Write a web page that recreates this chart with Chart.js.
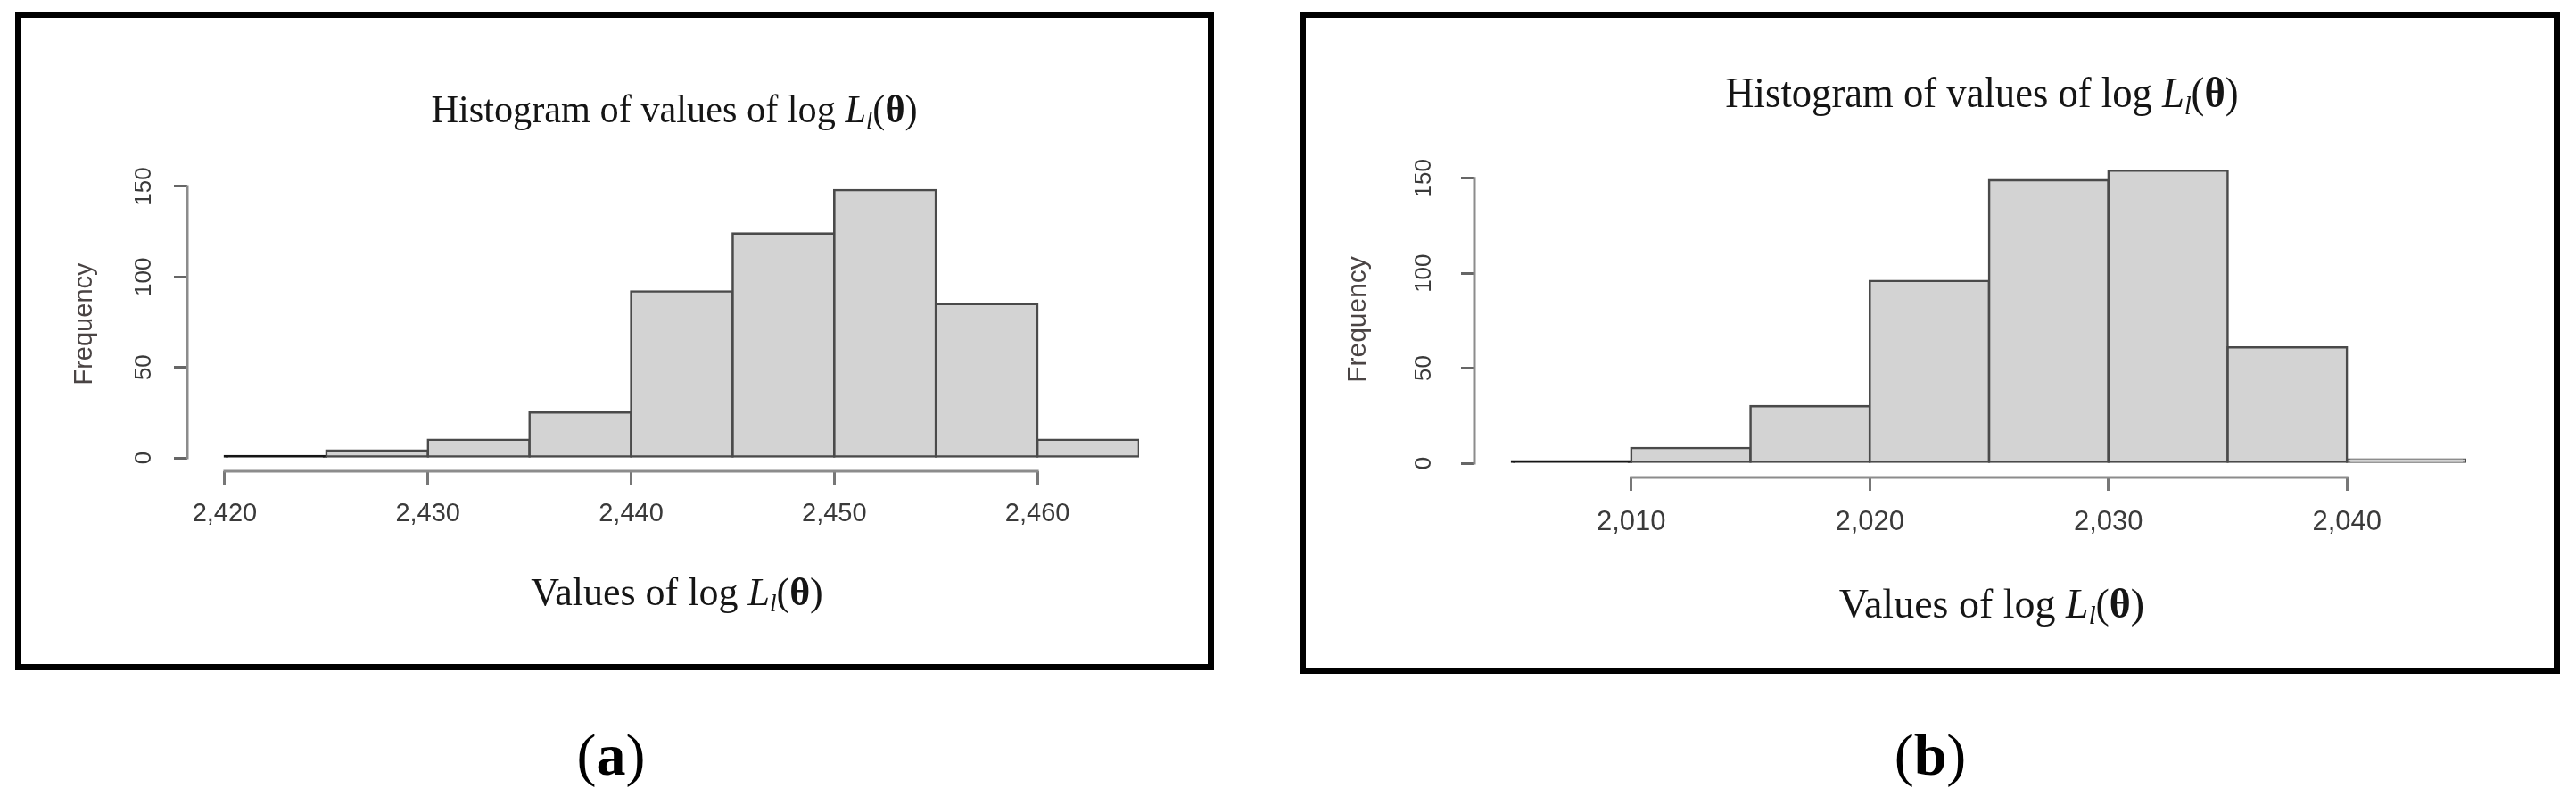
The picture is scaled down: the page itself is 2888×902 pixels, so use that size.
<!DOCTYPE html>
<html>
<head>
<meta charset="utf-8">
<script src="https://cdn.jsdelivr.net/npm/chart.js@4.4.0/dist/chart.umd.min.js"></script>
<style>
html, body { margin: 0; padding: 0; background: #fff; }
body { width: 2888px; height: 902px; position: relative; overflow: hidden; }
.frame { position: absolute; border: 7px solid #000; box-sizing: border-box; }
canvas { position: absolute; top: 0; }
</style>
</head>
<body>
<div class="frame" style="left:17px;top:13px;width:1344px;height:738px;"></div>
<div class="frame" style="left:1457px;top:13px;width:1413px;height:742px;"></div>
<canvas id="chartA" width="1420" height="902" style="left:0px"></canvas>
<canvas id="chartB" width="1468" height="902" style="left:1420px"></canvas>
<script>
// ---------- data ----------
const binWidth = 5;
const binStartsA = [2420, 2425, 2430, 2435, 2440, 2445, 2450, 2455, 2460];
const countsA    = [1, 4, 10, 25, 92, 124, 148, 85, 10];
const binStartsB = [2005, 2010, 2015, 2020, 2025, 2030, 2035, 2040];
const countsB    = [1, 8, 30, 96, 149, 154, 61, 2];
const xTickStep = 10;
const yTickStep = 50;
const yAxisLabel = 'Frequency';
const titlePrefix = 'Histogram of values of log ';
const xTitlePrefix = 'Values of log ';
const panelLetters = ['a', 'b'];

// ---------- rich text helper ----------
function richParts(prefix) {
  return [
    { text: prefix },
    { text: 'L', style: 'italic' },
    { text: 'l', style: 'italic', scale: 0.62, dy: 0.16 },
    { text: '(' },
    { text: '\u03B8', style: 'bold' },
    { text: ')' }
  ];
}
function drawRich(ctx, cx, by, size, parts, color, sx) {
  sx = sx || 1;
  ctx.save();
  ctx.fillStyle = color;
  ctx.textBaseline = 'alphabetic';
  ctx.textAlign = 'left';
  const fontOf = p => (p.style === 'italic' ? 'italic ' : '') + (p.style === 'bold' ? 'bold ' : '') +
    (size * (p.scale || 1)).toFixed(1) + 'px "Liberation Serif", "Times New Roman", serif';
  let total = 0;
  const widths = parts.map(p => { ctx.font = fontOf(p); const w = ctx.measureText(p.text).width; total += w; return w; });
  ctx.translate(cx, by);
  ctx.scale(sx, 1);
  let x = -total / 2;
  parts.forEach((p, i) => { ctx.font = fontOf(p); ctx.fillText(p.text, x, (p.dy || 0) * size); x += widths[i]; });
  ctx.restore();
}

// ---------- plugin: R-style axis lines + titles ----------
const histDecor = {
  id: 'histDecor',
  afterDraw(chart, args, o) {
    const ctx = chart.ctx;
    const xs = chart.scales.x, ys = chart.scales.y, a = chart.chartArea;
    const xt = xs.ticks, yt = ys.ticks;
    ctx.save();
    ctx.strokeStyle = o.axisColor;
    ctx.lineWidth = o.axisWidth;
    const h = o.axisWidth / 2;
    ctx.beginPath();
    ctx.moveTo(a.left, ys.getPixelForValue(yt[0].value) + h);
    ctx.lineTo(a.left, ys.getPixelForValue(yt[yt.length - 1].value) - h);
    ctx.moveTo(xs.getPixelForValue(xt[0].value) - h, a.bottom);
    ctx.lineTo(xs.getPixelForValue(xt[xt.length - 1].value) + h, a.bottom);
    ctx.stroke();
    ctx.restore();
    drawRich(ctx, o.title.x, o.title.y, o.title.size, richParts(titlePrefix), '#151515', o.title.sx);
    drawRich(ctx, o.xTitle.x, o.xTitle.y, o.xTitle.size, richParts(xTitlePrefix), '#151515', o.xTitle.sx);
    drawRich(ctx, o.letter.x, o.letter.y, o.letter.size,
      [{ text: '(' }, { text: o.letter.text, style: 'bold' }, { text: ')' }], '#000', 1);
  }
};

// very thin bars collapse into a single dark outline, as in the original R output
const isThin = c => c.parsed && c.parsed.y <= 1;

function makeChart(id, starts, counts, o) {
  const data = starts.map((s, i) => ({ x: s + binWidth / 2, y: counts[i] }));
  const sans = '"Liberation Sans", Arial, sans-serif';
  return new Chart(document.getElementById(id), {
    type: 'bar',
    data: {
      datasets: [{
        data,
        backgroundColor: c => (isThin(c) ? '#151515' : '#d3d3d3'),
        borderColor: c => (isThin(c) ? '#151515' : '#4a4a4a'),
        borderWidth: 2.6,
        borderSkipped: false,
        inflateAmount: 1.3,
        barPercentage: 1,
        categoryPercentage: 1
      }]
    },
    options: {
      responsive: false,
      animation: false,
      devicePixelRatio: 1,
      layout: { padding: o.pad },
      plugins: {
        legend: { display: false },
        tooltip: { enabled: false },
        title: { display: false },
        histDecor: o.decor
      },
      scales: {
        x: {
          type: 'linear', min: o.xmin, max: o.xmax, offset: false,
          grid: { display: true, offset: false, drawOnChartArea: false, drawTicks: true, tickLength: 15, color: '#777', lineWidth: 3 },
          border: { display: false },
          ticks: { stepSize: xTickStep, includeBounds: false, maxRotation: 0, autoSkip: false, padding: o.xtp, color: '#3a3a3a', font: { family: sans, size: o.xts } },
          afterFit: s => { s.height = 200; }
        },
        y: {
          type: 'linear', min: o.ymin, max: o.ymax,
          grid: { display: true, drawOnChartArea: false, drawTicks: true, tickLength: 15, color: '#666', lineWidth: 3 },
          border: { display: false },
          ticks: { stepSize: yTickStep, includeBounds: false, minRotation: 90, maxRotation: 90, crossAlign: 'center', autoSkip: false, padding: o.ytp, color: '#3a3a3a', font: { family: sans, size: o.yts } },
          title: { display: true, text: yAxisLabel, color: '#4a4444', font: { family: sans, size: o.fs }, padding: { top: o.ftp, bottom: 0 } },
          afterFit: s => { s.width = 150; }
        }
      }
    },
    plugins: [histDecor]
  });
}

makeChart('chartA', binStartsA, countsA, {
  pad: { left: 60, right: 143, top: 198, bottom: 174 },
  xmin: 2418.16, xmax: 2465, ymin: -7.4, ymax: 155.4,
  xtp: 16, xts: 29, ytp: 11, yts: 26, fs: 29, ftp: 17.6,
  decor: {
    axisColor: '#8c8c8c', axisWidth: 3,
    title: { x: 756, y: 137, size: 45, sx: 0.94 },
    xTitle: { x: 759, y: 678, size: 44, sx: 1 },
    letter: { x: 685, y: 868, size: 66, text: panelLetters[0] }
  }
});

makeChart('chartB', binStartsB, countsB, {
  pad: { left: 83, right: 123, top: 181, bottom: 167 },
  xmin: 2003.43, xmax: 2045, ymin: -7.5, ymax: 158.8,
  xtp: 17, xts: 31, ytp: 19, yts: 26, fs: 30, ftp: 2,
  decor: {
    axisColor: '#8c8c8c', axisWidth: 3,
    title: { x: 802, y: 120, size: 48, sx: 0.93 },
    xTitle: { x: 813, y: 692, size: 46, sx: 1 },
    letter: { x: 744, y: 868, size: 66, text: panelLetters[1] }
  }
});
</script>
</body>
</html>
